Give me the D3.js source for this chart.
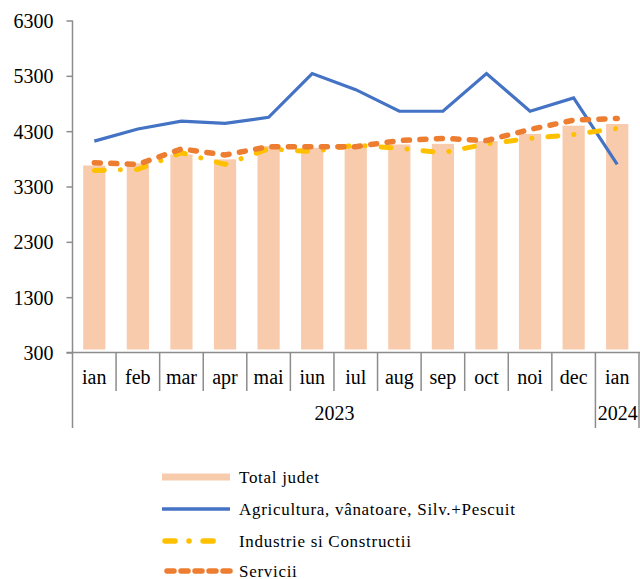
<!DOCTYPE html>
<html>
<head>
<meta charset="utf-8">
<script src="https://cdn.jsdelivr.net/npm/d3@7"></script>
<style>
  body { margin: 0; background: #fff; }
</style>
</head>
<body>
<div id="chart"></div>
<script>
const months = ["ian", "feb", "mar", "apr", "mai", "iun", "iul", "aug", "sep", "oct", "noi", "dec", "ian"]
const years = [{label: "2023", from: 0, to: 11}, {label: "2024", from: 12, to: 12}]
const yTicks = [300, 1300, 2300, 3300, 4300, 5300, 6300]

const totalJudet = [3680, 3720, 3880, 3790, 4030, 4000, 4030, 4060, 4070, 4120, 4250, 4400, 4430]
const agricultura = [4120, 4340, 4480, 4440, 4550, 5340, 5050, 4660, 4660, 5340, 4660, 4900, 3700]
const industrie = [3590, 3610, 3910, 3700, 3980, 3930, 4050, 3990, 3910, 4070, 4170, 4240, 4350]
const servicii = [3730, 3700, 3980, 3870, 4020, 4020, 4020, 4130, 4170, 4130, 4330, 4500, 4530]

const W = 640, H = 579
const plotL = 72.5, plotR = 639, plotT = 20.5, plotB = 352.5
const serif = "Liberation Serif"

const svg = d3.select("#chart").append("svg")
  .attr("width", W)
  .attr("height", H)

const x = d3.scaleBand()
  .domain(d3.range(months.length))
  .range([plotL, plotR])
  .padding(0)
const y = d3.scaleLinear()
  .domain([300, 6300])
  .range([plotB, plotT])

const barW = x.bandwidth() * 0.51

// bars
svg.selectAll(".bar")
  .data(totalJudet)
  .join("rect")
  .attr("x", (d, i) => x(i) + (x.bandwidth() - barW) / 2)
  .attr("width", barW)
  .attr("y", d => y(d))
  .attr("height", d => y(300) - y(d) - 3)
  .attr("fill", "#F8CBAD")

// y axis
svg.append("g")
  .attr("transform", `translate(${plotL},0)`)
  .call(d3.axisLeft(y).tickValues(yTicks).tickSize(6).tickPadding(13).tickFormat(d3.format("d")))
  .call(g => g.select(".domain").attr("stroke", "#8c8c8c").attr("stroke-width", 1.5).attr("d", `M0,${plotT}V${plotB}`))
  .call(g => g.selectAll(".tick line").attr("stroke", "#8c8c8c").attr("stroke-width", 1.5))
  .call(g => g.selectAll(".tick text")
    .attr("fill", "#000")
    .attr("font-family", serif)
    .attr("font-size", 20)
    .attr("dy", "0.35em"))

// x axis line
svg.append("line")
  .attr("x1", plotL - 6).attr("x2", plotR + 1)
  .attr("y1", plotB).attr("y2", plotB)
  .attr("stroke", "#8c8c8c").attr("stroke-width", 1.5)

// category separators
const sepShort = 391, sepLong = 428
svg.selectAll(".sep")
  .data(d3.range(months.length + 1))
  .join("line")
  .attr("x1", i => i < months.length ? x(i) : plotR)
  .attr("x2", i => i < months.length ? x(i) : plotR)
  .attr("y1", plotB)
  .attr("y2", i => (i === 0 || i === 12 || i === 13) ? sepLong : sepShort)
  .attr("stroke", "#8c8c8c").attr("stroke-width", 1.5)

svg.selectAll(".month")
  .data(months)
  .join("text")
  .attr("x", (d, i) => x(i) + x.bandwidth() / 2)
  .attr("y", 384)
  .attr("text-anchor", "middle")
  .attr("font-family", serif)
  .attr("font-size", 20)
  .text(d => d)

svg.selectAll(".year")
  .data(years)
  .join("text")
  .attr("x", d => (x(d.from) + x(d.to) + x.bandwidth()) / 2 + 0.5)
  .attr("y", 420)
  .attr("text-anchor", "middle")
  .attr("font-family", serif)
  .attr("font-size", 20)
  .text(d => d.label)

const line = d3.line()
  .x((d, i) => x(i) + x.bandwidth() / 2)
  .y(d => y(d))

svg.append("path")
  .datum(agricultura)
  .attr("d", line)
  .attr("fill", "none")
  .attr("stroke", "#4472C4")
  .attr("stroke-width", 3.2)

svg.append("path")
  .datum(industrie)
  .attr("d", line)
  .attr("fill", "none")
  .attr("stroke", "#FFC000")
  .attr("stroke-width", 5)
  .attr("stroke-linecap", "round")
  .attr("stroke-dasharray", "10 16 0.1 16")

svg.append("path")
  .datum(servicii)
  .attr("d", line)
  .attr("fill", "none")
  .attr("stroke", "#ED7D31")
  .attr("stroke-width", 5.5)
  .attr("stroke-linecap", "round")
  .attr("stroke-dasharray", "6 10.5")

// legend
const legend = [
  {name: "Total judet", type: "bar"},
  {name: "Agricultura, vânatoare, Silv.+Pescuit", type: "agri"},
  {name: "Industrie si Constructii", type: "ind"},
  {name: "Servicii", type: "serv"}
]
const legendY = [477, 509, 541, 571]
const lg = svg.append("g")
legend.forEach((d, i) => {
  const yy = legendY[i]
  if (d.type === "bar") {
    lg.append("rect").attr("x", 162).attr("y", yy - 3.5).attr("width", 68).attr("height", 7).attr("fill", "#F8CBAD")
  } else if (d.type === "agri") {
    lg.append("line").attr("x1", 162).attr("x2", 230).attr("y1", yy).attr("y2", yy)
      .attr("stroke", "#4472C4").attr("stroke-width", 3.5)
  } else if (d.type === "ind") {
    lg.append("line").attr("x1", 165).attr("x2", 222).attr("y1", yy).attr("y2", yy)
      .attr("stroke", "#FFC000").attr("stroke-width", 5.5).attr("stroke-linecap", "round")
      .attr("stroke-dasharray", "10 14 0.1 14")
  } else {
    lg.append("line").attr("x1", 167).attr("x2", 233).attr("y1", yy).attr("y2", yy)
      .attr("stroke", "#ED7D31").attr("stroke-width", 5.5).attr("stroke-linecap", "round")
      .attr("stroke-dasharray", "7 7")
  }
  lg.append("text")
    .attr("x", 239)
    .attr("y", yy)
    .attr("dy", "0.33em")
    .attr("font-family", serif)
    .attr("font-size", 17)
    .attr("letter-spacing", 0.7)
    .text(d.name)
})
</script>
</body>
</html>
